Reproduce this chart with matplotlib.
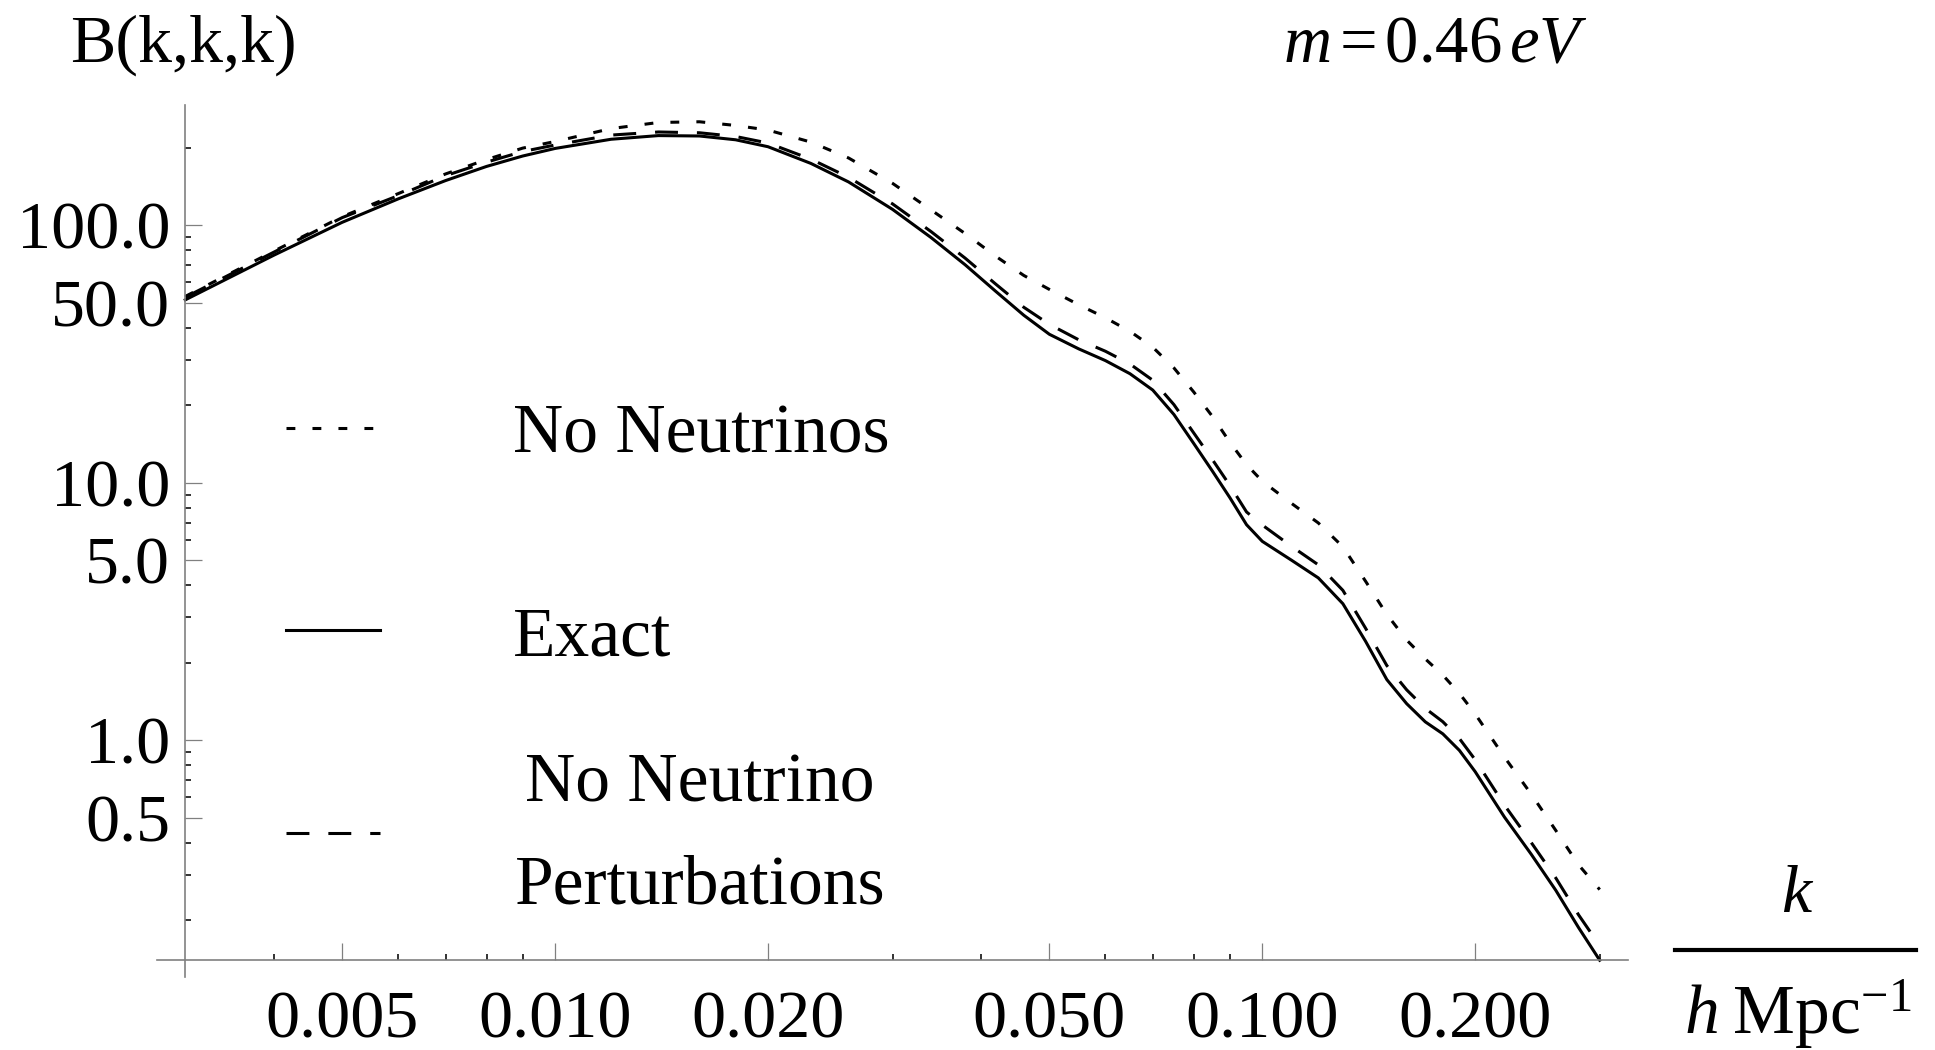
import numpy as np
import matplotlib
matplotlib.use('Agg')
import matplotlib.pyplot as plt
from matplotlib.lines import Line2D
from matplotlib.ticker import NullFormatter

plt.rcParams['font.family'] = ['Liberation Serif', 'DejaVu Serif']
plt.rcParams['mathtext.fontset'] = 'custom'
plt.rcParams['mathtext.rm'] = 'Liberation Serif'
plt.rcParams['mathtext.it'] = 'Liberation Serif:italic'

# k en h/Mpc
k = [0.003, 0.004, 0.005, 0.006, 0.007, 0.008, 0.009, 0.010, 0.012, 0.014,
     0.016, 0.018, 0.020, 0.023, 0.026, 0.030, 0.034, 0.038, 0.042, 0.046,
     0.050, 0.055, 0.060, 0.065, 0.070, 0.075, 0.080, 0.085, 0.090, 0.095,
     0.100, 0.110, 0.120, 0.130, 0.140, 0.150, 0.160, 0.170, 0.180, 0.190,
     0.200, 0.220, 0.240, 0.260, 0.280, 0.300]

# B(k,k,k) "Exact"
b_exact = [51.3, 76.4, 102.6, 126.5, 149.0, 169.1, 185.6, 198.6, 215.6, 222.8,
           222.0, 214.6, 201.7, 173.7, 147.2, 115.2, 89.6, 70.2, 55.3, 44.7,
           37.7, 33.1, 29.8, 26.5, 22.9, 18.4, 14.2, 11.1, 8.74, 6.87,
           5.92, 5.00, 4.27, 3.39, 2.42, 1.72, 1.387, 1.179, 1.059, 0.913,
           0.755, 0.503, 0.361, 0.2615, 0.1874, 0.1399]

# B(k,k,k) "No Neutrino Perturbations"
b_no_pert = [52.5, 78.5, 107.0, 130.2, 155.7, 175.7, 193.2, 204.8, 223.8, 230.1,
             228.5, 221.0, 208.5, 180.5, 153.5, 121.0, 94.5, 74.5, 59.0, 48.0,
             41.2, 35.9, 32.4, 28.9, 25.0, 20.1, 15.6, 12.3, 9.75, 7.70,
             6.85, 5.66, 4.80, 3.82, 2.72, 1.95, 1.57, 1.33, 1.18, 1.015,
             0.840, 0.560, 0.401, 0.292, 0.210, 0.1594]

# B(k,k,k) "No Neutrinos"
b_no_nu = [52.9, 79.2, 107.9, 132.6, 158.1, 179.8, 199.2, 211.3, 237.2, 250.5,
           252.1, 243.9, 234.1, 210.2, 182.4, 145.4, 114.7, 92.8, 75.7, 63.8,
           56.3, 49.1, 43.7, 38.7, 33.6, 27.9, 22.5, 18.1, 14.35, 11.75,
           10.14, 8.31, 6.98, 5.64, 4.14, 3.08, 2.45, 2.07, 1.79, 1.52,
           1.265, 0.860, 0.618, 0.4466, 0.3283, 0.2631]

x_ticks = [0.005, 0.010, 0.020, 0.050, 0.100, 0.200]
x_labels = ['0.005', '0.010', '0.020', '0.050', '0.100', '0.200']
x_minor = [0.004, 0.006, 0.007, 0.008, 0.009, 0.03, 0.04, 0.06, 0.07, 0.08, 0.09, 0.3]
y_ticks = [0.5, 1.0, 5.0, 10.0, 50.0, 100.0]
y_labels = ['0.5', '1.0', '5.0', '10.0', '50.0', '100.0']
y_minor = [0.2, 0.3, 0.4, 0.6, 0.7, 0.8, 0.9, 2, 3, 4, 6, 7, 8, 9,
           20, 30, 40, 60, 70, 80, 90, 200]

lw = 2.2
sty_dot = (0, (2.9, 5.6))
sty_dash = (0, (7.5, 6.2))

fig = plt.figure(figsize=(19.35, 10.5), dpi=100)
ax = fig.add_axes([0.08114, 0.06952, 0.76021, 0.83048])

ax.plot(k, b_no_nu, color='black', lw=lw, ls=sty_dot)
ax.plot(k, b_exact, color='black', lw=lw, ls='-')
ax.plot(k, b_no_pert, color='black', lw=lw, ls=sty_dash)

ax.set_xscale('log')
ax.set_yscale('log')

# rango con 2% de margen (estilo Mathematica)
lx = np.log10(k)
todos = np.concatenate([b_exact, b_no_pert, b_no_nu])
ly = np.log10(todos)
px = 0.02 * (lx.max() - lx.min())
py = 0.02 * (ly.max() - ly.min())
ax.set_xlim(10 ** (lx.min() - px), 10 ** (lx.max() + px))
ax.set_ylim(10 ** (ly.min() - py), 10 ** (ly.max() + py))

# ejes cruzados
ax.spines['top'].set_visible(False)
ax.spines['right'].set_visible(False)
ax.spines['left'].set_position(('data', k[0]))
ax.spines['bottom'].set_position(('data', todos.min()))
for s in ['left', 'bottom']:
    ax.spines[s].set_color('#808080')
    ax.spines[s].set_linewidth(1.2)

ax.set_xticks(x_ticks, x_labels)
ax.set_xticks(x_minor, minor=True)
ax.set_yticks(y_ticks, y_labels)
ax.set_yticks(y_minor, minor=True)
ax.xaxis.set_minor_formatter(NullFormatter())
ax.yaxis.set_minor_formatter(NullFormatter())

ax.tick_params(which='major', direction='in', length=12, width=0.9,
               color='#808080', labelsize=49)
ax.tick_params(which='minor', direction='in', length=4, width=1.3, color='#222222')
ax.tick_params(axis='x', which='major', pad=22)
ax.tick_params(axis='y', which='major', pad=11)

# leyenda
lx0, lx1 = 0.0877, 0.1516
ax.add_line(Line2D([lx0, lx1], [0.6296, 0.6296], transform=ax.transAxes,
                   color='black', lw=lw, ls=sty_dot))
ax.add_line(Line2D([lx0, lx1], [0.3979, 0.3979], transform=ax.transAxes,
                   color='black', lw=lw, ls='-'))
ax.add_line(Line2D([lx0, lx1], [0.1651, 0.1651], transform=ax.transAxes,
                   color='black', lw=lw, ls=sty_dash))
ax.text(0.242, 0.6204, 'No Neutrinos', transform=ax.transAxes,
        ha='left', va='center', fontsize=50)
ax.text(0.242, 0.3876, 'Exact', transform=ax.transAxes,
        ha='left', va='center', fontsize=50)
ax.text(0.3691, 0.1617, 'No Neutrino\nPerturbations', transform=ax.transAxes,
        ha='center', va='center', multialignment='center', linespacing=1.8,
        fontsize=50)

# etiquetas
fig.text(0.0362, 0.941, 'B(k,k,k)', ha='left', va='baseline', fontsize=49)
fig.text(0.663, 0.941, r'$m\,$=$\,$0.46$\,eV$', ha='left', va='baseline', fontsize=48)
fig.text(0.929, 1 - 896 / 1050, r'$k$', ha='center', va='center', fontsize=49)
fig.add_artist(Line2D([1675 / 1935, 1916 / 1935], [1 - 950 / 1050] * 2,
                      transform=fig.transFigure, color='black', lw=3))
fig.text(0.929, 1 - 1034 / 1050, r'$h\;\mathrm{Mpc}^{-1}$', ha='center',
         va='baseline', fontsize=50)

fig.savefig('out.png', dpi=100)
